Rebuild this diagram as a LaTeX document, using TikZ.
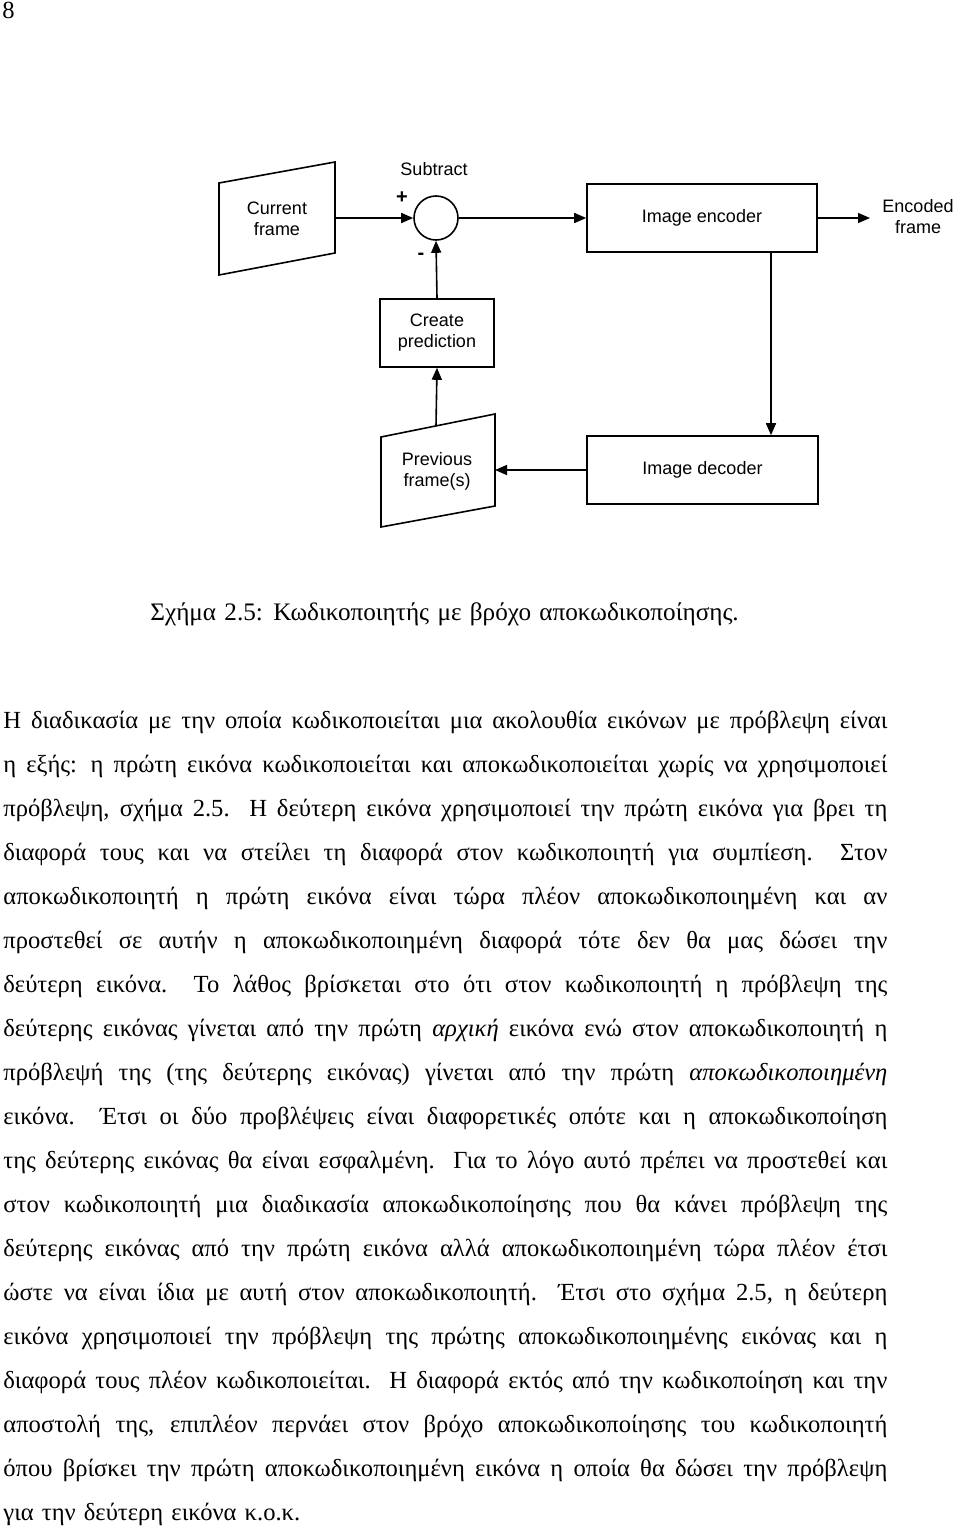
\documentclass[tikz,border=0pt]{standalone}
\usepackage{fontspec}
\setmainfont{Liberation Serif}
\newfontfamily\diagfont{Liberation Sans}
\usetikzlibrary{arrows.meta}
\newcommand{\dsp}{\ \ }
\begin{document}
\begin{tikzpicture}[x=0.5pt,y=-0.5pt,
  ln/.style={line width=0.8pt},
  arr/.style={line width=0.8pt,-{Triangle[length=6pt,width=5pt]}},
  blk/.style={draw,line width=0.8pt,inner sep=0pt,font=\diagfont\fontsize{9}{10.5}\selectfont,align=center},
  lbl/.style={font=\diagfont\fontsize{9}{10.5}\selectfont,align=center,inner sep=0pt},
  sgn/.style={font=\diagfont\bfseries\fontsize{10}{12}\selectfont,inner sep=0pt},
  body/.style={font=\fontsize{12.3}{22}\selectfont,inner sep=0pt}
]
\useasboundingbox (0,0) rectangle (960,1530);

% page number
\node[body,anchor=base west] (pg) at (2,19) {8};

% ---- diagram ----
% current frame (quadrilateral)
\draw[ln] (219,183) -- (335,162) -- (335,253) -- (219,275) -- cycle;
\node[lbl] (cf) at (277,219) {Current\\frame};
\coordinate (cfR) at (335,218);

% subtract circle
\node[draw,circle,line width=0.8pt,minimum size=22pt,inner sep=0pt] (sub) at (436,218) {};
\node[lbl] (subl) at (434,169) {Subtract};
\node[sgn] (plus) at (402,198) {+};
\node[sgn] (minus) at (421,256) {-};

% encoder
\node[blk,minimum width=115pt,minimum height=34pt] (enc) at (702,218) {Image encoder};
\coordinate (encout) at (870,218);
\node[lbl] (encf) at (918,217) {Encoded\\frame};

% decoder
\node[blk,minimum width=115.5pt,minimum height=34pt] (dec) at (702.5,470) {Image decoder};
\coordinate (fbx) at (771,0);

% create prediction
\node[blk,minimum width=57pt,minimum height=34pt] (pred) at (437,333) {Create\\prediction};

% previous frames (quadrilateral)
\draw[ln] (381,437) -- (495,414) -- (495,506) -- (381,527) -- cycle;
\node[lbl] (pf) at (437,471) {Previous\\frame(s)};
\coordinate (pfR) at (495,470);
\coordinate (pfT) at (436,426);

% connectors
\draw[arr] (cfR) -- (sub.west);
\draw[arr] (sub.east) -- (enc.west);
\draw[arr] (enc.east) -- (encout);
\draw[arr] (enc.south -| fbx) -- (dec.north -| fbx);
\draw[arr] (dec.west) -- (pfR);
\draw[arr] (pfT) -- (pred.south);
\draw[arr] (pred.north) -- (sub.south);

% ---- caption ----
\node[body,anchor=base west,font=\fontsize{12.6}{22}\selectfont] (cap) at (150,620) {\spaceskip=0.33em Σχήμα 2.5: Κωδικοποιητής με βρόχο αποκωδικοποίησης.};

% ---- paragraph ----
\node[body,anchor=base west] (par) at (3,728) {\parbox[t]{442pt}{\fontsize{12.3}{22}\selectfont\spaceskip=0.33em plus 0.4em minus 0.06em\xspaceskip=0.5em plus 0.3em minus 0.05em\hyphenpenalty=10000\exhyphenpenalty=10000\parindent=0pt
Η διαδικασία με την οποία κωδικοποιείται μια ακολουθία εικόνων με πρόβλεψη είναι\linebreak
η εξής: η πρώτη εικόνα κωδικοποιείται και αποκωδικοποιείται χωρίς να χρησιμοποιεί\linebreak
πρόβλεψη, σχήμα 2.5.\dsp Η δεύτερη εικόνα χρησιμοποιεί την πρώτη εικόνα για βρει τη\linebreak
διαφορά τους και να στείλει τη διαφορά στον κωδικοποιητή για συμπίεση.\dsp Στον\linebreak
αποκωδικοποιητή η πρώτη εικόνα είναι τώρα πλέον αποκωδικοποιημένη και αν\linebreak
προστεθεί σε αυτήν η αποκωδικοποιημένη διαφορά τότε δεν θα μας δώσει την\linebreak
δεύτερη εικόνα.\dsp Το λάθος βρίσκεται στο ότι στον κωδικοποιητή η πρόβλεψη της\linebreak
δεύτερης εικόνας γίνεται από την πρώτη \textit{αρχική} εικόνα ενώ στον αποκωδικοποιητή η\linebreak
πρόβλεψή της (της δεύτερης εικόνας) γίνεται από την πρώτη \textit{αποκωδικοποιημένη}\linebreak
εικόνα.\dsp Έτσι οι δύο προβλέψεις είναι διαφορετικές οπότε και η αποκωδικοποίηση\linebreak
της δεύτερης εικόνας θα είναι εσφαλμένη.\dsp Για το λόγο αυτό πρέπει να προστεθεί και\linebreak
στον κωδικοποιητή μια διαδικασία αποκωδικοποίησης που θα κάνει πρόβλεψη της\linebreak
δεύτερης εικόνας από την πρώτη εικόνα αλλά αποκωδικοποιημένη τώρα πλέον έτσι\linebreak
ώστε να είναι ίδια με αυτή στον αποκωδικοποιητή.\dsp Έτσι στο σχήμα 2.5, η δεύτερη\linebreak
εικόνα χρησιμοποιεί την πρόβλεψη της πρώτης αποκωδικοποιημένης εικόνας και η\linebreak
διαφορά τους πλέον κωδικοποιείται.\dsp Η διαφορά εκτός από την κωδικοποίηση και την\linebreak
αποστολή της, επιπλέον περνάει στον βρόχο αποκωδικοποίησης του κωδικοποιητή\linebreak
όπου βρίσκει την πρώτη αποκωδικοποιημένη εικόνα η οποία θα δώσει την πρόβλεψη\linebreak
για την δεύτερη εικόνα κ.ο.κ.}};
\end{tikzpicture}
\end{document}
